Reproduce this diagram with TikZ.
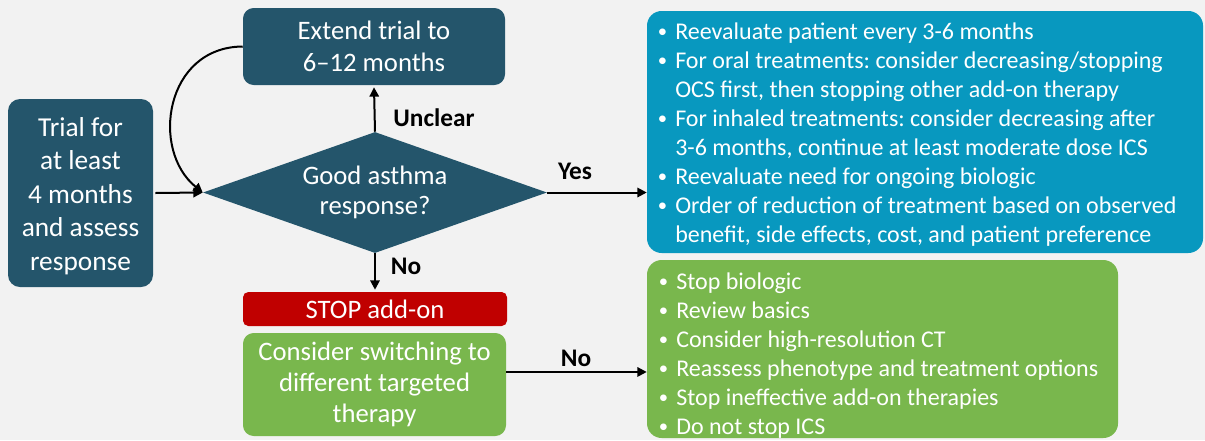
\documentclass[tikz,border=0pt]{standalone}
\usepackage{fontspec}
\setmainfont{Carlito}
\usetikzlibrary{shapes.geometric,arrows.meta,calc}
\definecolor{bg}{HTML}{F2F2F2}
\definecolor{dteal}{HTML}{24556B}
\definecolor{lblue}{HTML}{0898BF}
\definecolor{lgreen}{HTML}{79B74D}
\definecolor{dred}{HTML}{C00000}
\newcommand\bl{\makebox[13.5pt][l]{\hspace*{0.5pt}\raisebox{1.3pt}{\fontsize{14pt}{14pt}\selectfont •}}}
\newcommand\ind{\hspace*{13.5pt}}
\frenchspacing
\begin{document}
\begin{tikzpicture}[x=0.75pt,y=-0.75pt,
  box/.style={draw=none,text=white,align=center,inner sep=0pt,
    font=\fontsize{20pt}{23.5pt}\selectfont},
  panel/.style={draw=none,rounded corners=11pt},
  listtext/.style={text=white,align=left,inner sep=0pt,anchor=west,
    font=\fontsize{18pt}{21.75pt}\selectfont},
  lbl/.style={font=\fontsize{19pt}{21pt}\selectfont\bfseries,inner sep=0pt},
  arr/.style={line width=1.5pt,-{Triangle[length=7pt,width=7pt]}}]
\fill[bg] (0,0) rectangle (1205,440);
\useasboundingbox (0,0) rectangle (1205,440);

\node[box,fill=dteal,rounded corners=9pt,minimum width=108.75pt,minimum height=141pt] (trial) at (80.5,193) {};
\node[box,font=\fontsize{20.5pt}{25.1pt}\selectfont] (trialtext) at (80.5,196)
  {Trial for\\at least\\4 months\\and assess\\response};
\node[box,fill=dteal,rounded corners=8pt,minimum width=196.5pt,minimum height=57.75pt] (ext) at (374,46.5)
  {Extend trial to\\6–12 months};
\node[box,diamond,fill=dteal,shape aspect=2.843,minimum width=258pt,minimum height=90.75pt,
  font=\fontsize{20pt}{22.5pt}\selectfont] (dec) at (375,192.5)
  {Good asthma\\response?};
\node[box,fill=dred,rounded corners=4pt,minimum width=198pt,minimum height=25.5pt] (stop) at (375,309)
  {STOP add-on};
\node[box,fill=lgreen,rounded corners=8pt,minimum width=197.25pt,minimum height=77.25pt] (sw) at (374.5,384.5)
  {Consider switching to\\different targeted\\therapy};

\node[panel,fill=lblue,minimum width=417pt,minimum height=181.5pt] (yes) at (925,132) {};
\node[listtext] (yestext) at (657,134.5)
  {\bl Reevaluate patient every 3-6 months\\
   \bl For oral treatments: consider decreasing/stopping\\
   \ind OCS first, then stopping other add-on therapy\\
   \bl For inhaled treatments: consider decreasing after\\
   \ind 3-6 months, continue at least moderate dose ICS\\
   \bl Reevaluate need for ongoing biologic\\
   \bl Order of reduction of treatment based on observed\\
   \ind benefit, side effects, cost, and patient preference};
\node[panel,fill=lgreen,minimum width=353.25pt,minimum height=133.5pt] (no) at (882.5,349) {};
\node[listtext] (notext) at (658,355.5)
  {\bl Stop biologic\\
   \bl Review basics\\
   \bl Consider high-resolution CT\\
   \bl Reassess phenotype and treatment options\\
   \bl Stop ineffective add-on therapies\\
   \bl Do not stop ICS};

\draw[arr] ([xshift=1.5pt]trial.east) -- (dec.west);
\draw[arr] (ext.west) .. controls (165,47) and (150,150) .. (dec.west);
\draw[arr] (dec.north) -- ([yshift=-1.5pt]ext.south);
\draw[arr] (dec.east) -- (dec.east -| yes.west);
\draw[arr] (dec.south) -- ([yshift=1.5pt]stop.north);
\draw[arr] ([yshift=9.4pt]sw.east) -- ([yshift=9.4pt]sw.east -| no.west);

\node[lbl] (lu) at (434,118) {Unclear};
\node[lbl] (ly) at (575,171) {Yes};
\node[lbl] (ln1) at (406,266) {No};
\node[lbl] (ln2) at (576,358) {No};
\end{tikzpicture}
\end{document}
